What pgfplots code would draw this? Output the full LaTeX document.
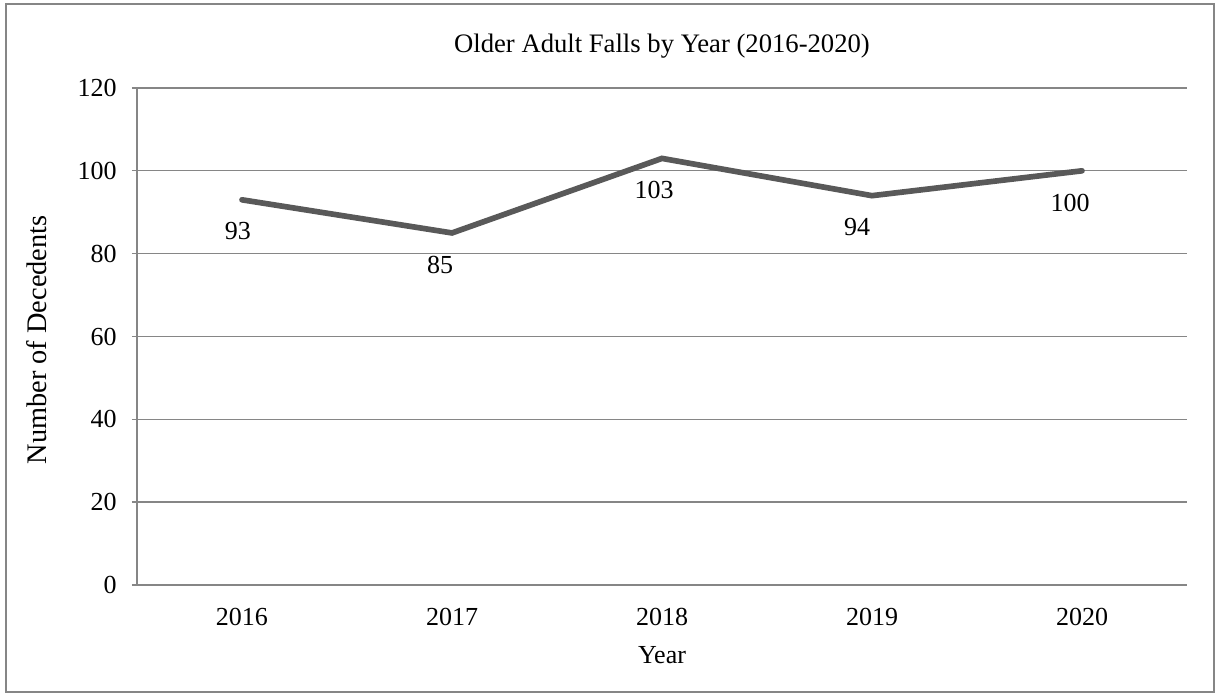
\documentclass[border=0pt]{standalone}
\usepackage{pgfplots}
\pgfplotsset{compat=1.18}
\usepackage{pgfplotstable}
\usepackage{fontspec}
\setmainfont{Liberation Serif}
\definecolor{gridgray}{HTML}{868686}
\definecolor{linegray}{HTML}{595959}
\pgfplotstableread{
x y dx
0 93 -2.4
1 85 -7.2
2 103 -4.8
3 94 -9.0
4 100 -7.2
}\falls
\begin{document}
\begin{tikzpicture}
\begin{axis}[
  scale only axis,
  width=630pt, height=298.2pt,
  xmin=-0.5, xmax=4.5,
  ymin=0, ymax=120,
  ytick={0,20,...,120},
  xtick={0,1,2,3,4},
  xticklabels={2016,2017,2018,2019,2020},
  major x tick style={draw=none},
  tick align=outside,
  major tick length=3pt,
  y tick style={gridgray, line width=0.8pt},
  ymajorgrids,
  grid style={gridgray, line width=0.8pt},
  axis line style={gridgray, line width=0.8pt},
  axis x line*=bottom,
  axis y line*=left,
  font=\fontsize{15.6}{18}\selectfont,
  /pgf/number format/assume math mode=true,
  yticklabel style={anchor=east, inner sep=0pt, xshift=-9pt},
  xticklabel style={anchor=center, inner sep=0pt, yshift=-16pt},
  title={Older Adult Falls by Year (2016-2020)},
  title style={at={(axis description cs:0.5,1)}, anchor=center, yshift=19pt, font=\fontsize{16}{19}\selectfont},
  xlabel={Year},
  xlabel style={at={(axis description cs:0.5,0)}, anchor=center, yshift=-42pt},
  ylabel={Number of Decedents},
  ylabel style={at={(axis description cs:0,0.5)}, anchor=center, yshift=60pt, xshift=-2pt, font=\fontsize{17}{20}\selectfont},
  clip=false,
]
\addplot[linegray, line width=3.4pt, line cap=round, line join=miter,
  nodes near coords,
  visualization depends on={\thisrow{dx}\as\dx},
  nodes near coords style={anchor=center, inner sep=0pt, xshift=\dx pt, yshift=-19pt, black, font=\fontsize{15.6}{18}\selectfont},
] table[x=x, y=y] {\falls};
\end{axis}
\path ([xshift=-82.2pt, yshift=-68.4pt]current axis.south west)
  rectangle ([xshift=18pt, yshift=52.8pt]current axis.north east);
\draw[gridgray, line width=0.8pt]
  ([xshift=-78.6pt, yshift=-64.2pt]current axis.south west)
  rectangle ([xshift=16.2pt, yshift=50.4pt]current axis.north east);
\end{tikzpicture}
\end{document}
